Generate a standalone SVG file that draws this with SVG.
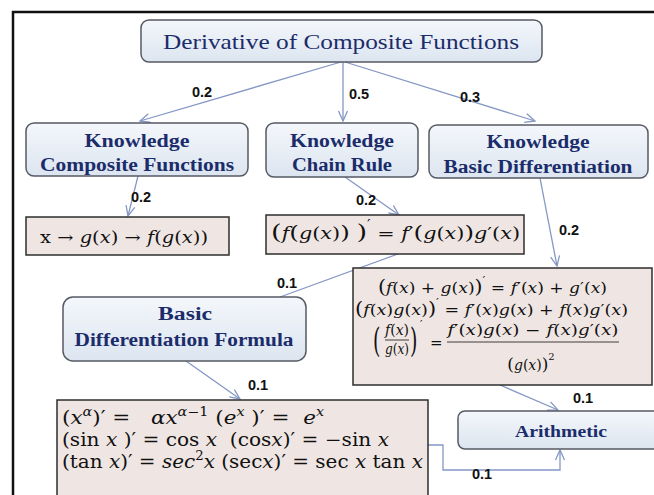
<svg xmlns="http://www.w3.org/2000/svg" width="654" height="495" viewBox="0 0 654 495">
<defs>
<linearGradient id="ng" x1="0" y1="0" x2="0" y2="1"><stop offset="0" stop-color="#f4f7fb"/><stop offset="1" stop-color="#dce5f0"/></linearGradient>
<marker id="ah" markerUnits="userSpaceOnUse" markerWidth="12" markerHeight="12" viewBox="0 0 12 12" refX="11" refY="6" orient="auto"><path d="M1,1.5 L11,6 L1,10.5" fill="none" stroke="#8497c5" stroke-width="1.3"/></marker>
<style>
.node rect{fill:url(#ng);stroke:#555a63;stroke-width:1.5}
.nt{font-family:"Liberation Serif","DejaVu Serif",serif;font-weight:bold;fill:#1b2c6b;text-anchor:middle}
.tt{font-family:"Liberation Serif","DejaVu Serif",serif;font-weight:normal;fill:#1b2c6b;text-anchor:middle}
.fb{fill:#efe6e3;stroke:#2e2e2e;stroke-width:1.5}
.m{font-family:"DejaVu Serif","Liberation Serif",serif;fill:#111}
.i{font-style:italic}
.c{fill:none;stroke:#8497c5;stroke-width:1.3}
.lbl{font-family:"Liberation Sans",Arial,sans-serif;font-weight:bold;font-size:14.5px;fill:#111;text-anchor:middle}
</style>
</defs>
<rect x="0" y="0" width="654" height="495" fill="#fff"/>
<rect x="13" y="12" width="700" height="600" fill="none" stroke="#111" stroke-width="2.5"/>

<g id="connectors">
<path class="c" d="M341,62 L140,121" marker-end="url(#ah)"/>
<path class="c" d="M343,62 L343,121" marker-end="url(#ah)"/>
<path class="c" d="M345,62 L535,121" marker-end="url(#ah)"/>
<path class="c" d="M138,176 L128,216" marker-end="url(#ah)"/>
<path class="c" d="M345,177 L399,215" marker-end="url(#ah)"/>
<path class="c" d="M540,178 L557,266" marker-end="url(#ah)"/>
<path class="c" d="M398,254 L280,297"/>
<path class="c" d="M186,361 L240,399" marker-end="url(#ah)"/>
<path class="c" d="M500,385 L558,410" marker-end="url(#ah)"/>
<path class="c" d="M428,445 L443,445 L443,470 L560,470 L560,450" marker-end="url(#ah)"/>
<text class="lbl" x="202" y="97">0.2</text>
<text class="lbl" x="359" y="99">0.5</text>
<text class="lbl" x="470" y="102">0.3</text>
<text class="lbl" x="141" y="202">0.2</text>
<text class="lbl" x="366" y="205">0.2</text>
<text class="lbl" x="569" y="235">0.2</text>
<text class="lbl" x="287" y="288">0.1</text>
<text class="lbl" x="258" y="390">0.1</text>
<text class="lbl" x="583" y="403">0.1</text>
<text class="lbl" x="482" y="479">0.1</text>
</g>

<g id="n-root" class="node"><rect x="141" y="20" width="401" height="42" rx="8"/><text class="tt" x="341" y="49" font-size="22" textLength="356" lengthAdjust="spacingAndGlyphs">Derivative of Composite Functions</text></g>

<g id="n-kcf" class="node"><rect x="26" y="123" width="222" height="53" rx="8"/><text class="nt" x="137" y="147" font-size="18" textLength="105" lengthAdjust="spacingAndGlyphs">Knowledge</text><text class="nt" x="137" y="171" font-size="18" textLength="194" lengthAdjust="spacingAndGlyphs">Composite Functions</text></g>

<g id="n-kcr" class="node"><rect x="266" y="123" width="152" height="54" rx="8"/><text class="nt" x="342" y="147" font-size="18" textLength="104" lengthAdjust="spacingAndGlyphs">Knowledge</text><text class="nt" x="342" y="171" font-size="18" textLength="100" lengthAdjust="spacingAndGlyphs">Chain Rule</text></g>

<g id="n-kbd" class="node"><rect x="429" y="125" width="219" height="53" rx="8"/><text class="nt" x="538" y="148" font-size="18" textLength="103" lengthAdjust="spacingAndGlyphs">Knowledge</text><text class="nt" x="538" y="173" font-size="18" textLength="189" lengthAdjust="spacingAndGlyphs">Basic Differentiation</text></g>

<g id="n-bdf" class="node"><rect x="63" y="297" width="243" height="64" rx="10"/><text class="nt" x="185" y="320" font-size="18" textLength="54" lengthAdjust="spacingAndGlyphs">Basic</text><text class="nt" x="184" y="346" font-size="18" textLength="219" lengthAdjust="spacingAndGlyphs">Differentiation Formula</text></g>

<g id="n-ari" class="node"><rect x="458" y="411" width="205" height="38" rx="7"/><text class="nt" x="561" y="437" font-size="16" textLength="92" lengthAdjust="spacingAndGlyphs">Arithmetic</text></g>

<g id="f-comp">
<rect class="fb" x="26" y="217" width="203" height="38"/>
<text class="m" x="40" y="243" font-size="16" textLength="168" lengthAdjust="spacingAndGlyphs">x → <tspan class="i">g</tspan>(<tspan class="i">x</tspan>) → <tspan class="i">f</tspan>(<tspan class="i">g</tspan>(<tspan class="i">x</tspan>))</text>
</g>

<g id="f-chain">
<rect class="fb" x="266" y="215" width="258" height="39"/>
<text class="m" x="271" y="239" font-size="16" textLength="249" lengthAdjust="spacingAndGlyphs"><tspan font-size="21">(</tspan><tspan class="i">f</tspan><tspan font-size="19">(</tspan><tspan class="i">g</tspan>(<tspan class="i">x</tspan>)<tspan font-size="19">)</tspan>&#160;<tspan font-size="21">)</tspan><tspan font-size="12" dy="-10">′</tspan><tspan dy="10"> = </tspan><tspan class="i">f</tspan>′<tspan font-size="19">(</tspan><tspan class="i">g</tspan>(<tspan class="i">x</tspan>)<tspan font-size="19">)</tspan><tspan class="i">g</tspan>′(<tspan class="i">x</tspan>)</text>
</g>

<g id="f-arith">
<rect class="fb" x="353" y="268" width="299" height="117"/>
<text class="m" x="378" y="293" font-size="15" textLength="229" lengthAdjust="spacingAndGlyphs"><tspan font-size="18">(</tspan><tspan class="i">f</tspan>(<tspan class="i">x</tspan>) + <tspan class="i">g</tspan>(<tspan class="i">x</tspan>)<tspan font-size="18">)</tspan><tspan font-size="11" dy="-9">′</tspan><tspan dy="9"> = </tspan><tspan class="i">f</tspan>′(<tspan class="i">x</tspan>) + <tspan class="i">g</tspan>′(<tspan class="i">x</tspan>)</text>
<text class="m" x="355" y="315" font-size="15" textLength="273" lengthAdjust="spacingAndGlyphs"><tspan font-size="18">(</tspan><tspan class="i">f</tspan>(<tspan class="i">x</tspan>)<tspan class="i">g</tspan>(<tspan class="i">x</tspan>)<tspan font-size="18">)</tspan><tspan font-size="11" dy="-9">′</tspan><tspan dy="9"> = </tspan><tspan class="i">f</tspan>′(<tspan class="i">x</tspan>)<tspan class="i">g</tspan>(<tspan class="i">x</tspan>) + <tspan class="i">f</tspan>(<tspan class="i">x</tspan>)<tspan class="i">g</tspan>′(<tspan class="i">x</tspan>)</text>
<text class="m" transform="translate(373,352) scale(1,1.75)" font-size="19">(</text>
<text class="m" x="397" y="335" font-size="14" text-anchor="middle" textLength="24" lengthAdjust="spacingAndGlyphs"><tspan class="i">f</tspan>(<tspan class="i">x</tspan>)</text>
<line x1="385" y1="340" x2="409" y2="340" stroke="#111" stroke-width="0.8"/>
<text class="m" x="397" y="354" font-size="14" text-anchor="middle" textLength="24" lengthAdjust="spacingAndGlyphs"><tspan class="i">g</tspan>(<tspan class="i">x</tspan>)</text>
<text class="m" transform="translate(410,352) scale(1,1.75)" font-size="19">)</text>
<text class="m" x="420" y="328" font-size="11">′</text>
<text class="m" x="430" y="348" font-size="15">=</text>
<text class="m" x="533" y="335" font-size="14" text-anchor="middle" textLength="171" lengthAdjust="spacingAndGlyphs"><tspan class="i">f</tspan>′(<tspan class="i">x</tspan>)<tspan class="i">g</tspan>(<tspan class="i">x</tspan>) − <tspan class="i">f</tspan>(<tspan class="i">x</tspan>)<tspan class="i">g</tspan>′(<tspan class="i">x</tspan>)</text>
<line x1="447" y1="342" x2="619" y2="342" stroke="#111" stroke-width="0.8"/>
<text class="m" x="531" y="370" font-size="14" text-anchor="middle"><tspan font-size="17">(</tspan><tspan class="i">g</tspan>(<tspan class="i">x</tspan>)<tspan font-size="17">)</tspan><tspan font-size="10" dy="-10">2</tspan></text>
</g>

<g id="f-basic">
<rect class="fb" x="57" y="400" width="371" height="110"/>
<text class="m" x="62" y="424" font-size="18" textLength="262" lengthAdjust="spacingAndGlyphs">(<tspan class="i">x</tspan><tspan class="i" font-size="12" dy="-8">α</tspan><tspan dy="8">)′ =&#160;&#160; </tspan><tspan class="i">αx</tspan><tspan class="i" font-size="12" dy="-8">α</tspan><tspan font-size="12">−1</tspan><tspan dy="8"> (</tspan><tspan class="i">e</tspan><tspan class="i" font-size="12" dy="-8">x</tspan><tspan dy="8"> )′ =&#160; </tspan><tspan class="i">e</tspan><tspan class="i" font-size="12" dy="-8">x</tspan></text>
<text class="m" x="62" y="446" font-size="18" textLength="327" lengthAdjust="spacingAndGlyphs">(sin <tspan class="i">x</tspan> )′ = cos <tspan class="i">x</tspan>&#160; (cos<tspan class="i">x</tspan>)′ = −sin <tspan class="i">x</tspan></text>
<text class="m" x="62" y="468" font-size="18" textLength="361" lengthAdjust="spacingAndGlyphs">(tan <tspan class="i">x</tspan>)′ = <tspan class="i">sec</tspan><tspan font-size="12" dy="-8">2</tspan><tspan class="i" dy="8">x</tspan> (sec<tspan class="i">x</tspan>)′ = sec <tspan class="i">x</tspan> tan <tspan class="i">x</tspan></text>
</g>
</svg>
